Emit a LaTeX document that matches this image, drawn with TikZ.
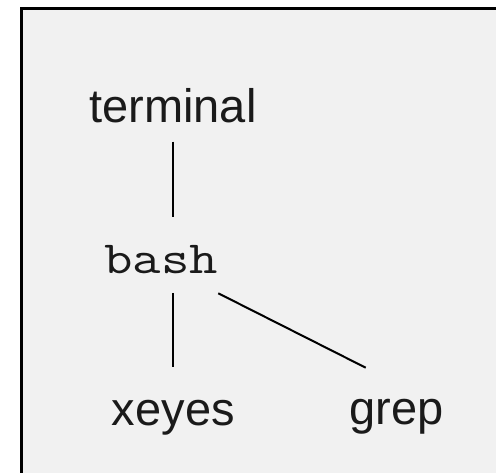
\documentclass[tikz,border=0pt]{standalone}
\usepackage{fontspec}
\setmainfont{Liberation Sans}
\newfontfamily\bashfont{Latin Modern Mono}[FakeStretch=1.2]
\definecolor{panelgray}{RGB}{241,241,241}
\definecolor{inkdark}{RGB}{26,26,26}
\begin{document}
\begin{tikzpicture}[x=1pt,y=1pt,
  lbl/.style={inner sep=0pt, anchor=base, text=inkdark, font=\fontsize{47}{56}\selectfont},
  mlbl/.style={inner sep=0pt, anchor=base, text=inkdark, font=\bashfont\fontsize{46}{55}\selectfont},
  edge/.style={draw=black, line width=2pt}]
\useasboundingbox (0,0) rectangle (496,472);
\fill[white] (0,0) rectangle (496,472);
\clip (0,0) rectangle (496,472);
\draw[fill=panelgray, line width=2.6pt] (21.5,463.5) rectangle (520,-20);
\node[lbl]  (terminal) at (173,349) {terminal};
\node[mlbl] (bash)     at (161,198) {bash};
\node[lbl]  (xeyes)    at (173.3,47) {xeyes};
\node[lbl]  (grep)     at (396.5,48) {grep};
\draw[edge, shorten <=18.7pt, shorten >=57.3pt] (terminal.base) -- (terminal.base |- bash.base);
\draw[edge, shorten <=19pt, shorten >=58pt] (xeyes.base |- bash.base) -- (xeyes.base);
\coordinate (g1) at ([xshift=57.3pt, yshift=-19.3pt]bash.base);
\coordinate (g2) at ([xshift=-30.8pt, yshift=56.3pt]grep.base);
\draw[edge] (g1) -- (g2);
\end{tikzpicture}
\end{document}
